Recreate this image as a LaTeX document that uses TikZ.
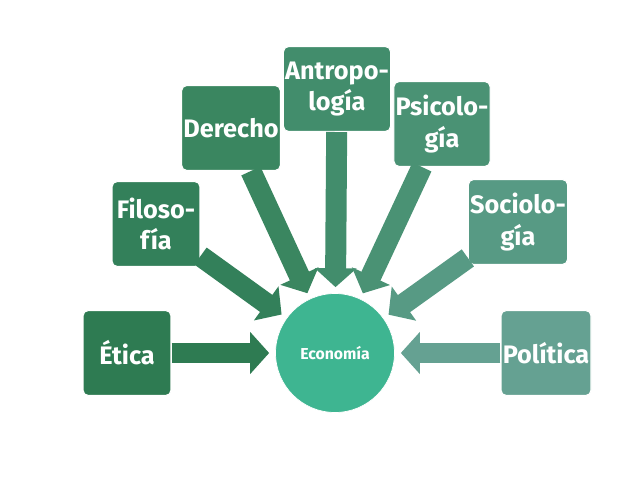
\documentclass[tikz,border=0pt]{standalone}
\usepackage{fontspec}
\setmainfont{Fira Sans}
\usetikzlibrary{arrows.meta}
\tikzset{
  topic/.style={draw=white, line width=0.6pt, rounded corners=3pt, text=white,
    font=\bfseries\Large, align=center, minimum width=1.76cm, minimum height=1.7cm, inner sep=1pt},
  feed/.style={line width=0.42cm, -{Triangle[width=0.82cm,length=0.38cm]}, shorten >=0.12cm}
}
\definecolor{cA}{HTML}{2E7B52}
\definecolor{cB}{HTML}{33805A}
\definecolor{cC}{HTML}{3A8660}
\definecolor{cD}{HTML}{428D6C}
\definecolor{cE}{HTML}{4A9274}
\definecolor{cF}{HTML}{579A84}
\definecolor{cG}{HTML}{65A192}
\definecolor{cEco}{HTML}{3EB591}
\begin{document}
\begin{tikzpicture}[x=0.02cm, y=-0.02cm]
  \useasboundingbox (0,0) rectangle (638,479);
  \node[circle, fill=cEco, draw=white, minimum size=2.38cm, text=white, font=\bfseries\small] (eco) at (335,353) {Economía};
  \node[topic, fill=cA] (eti) at (127,353) {Ética};
  \node[topic, fill=cB] (fil) at (156,224) {Filoso-\\fía};
  \node[topic, fill=cC, minimum width=1.96cm] (der) at (231,128) {Derecho};
  \node[topic, fill=cD] (ant) at (337,89) {Antropo-\\logía};
  \node[topic, fill=cE] (psi) at (442,124) {Psicolo-\\gía};
  \node[topic, fill=cF] (soc) at (518,222) {Sociolo-\\gía};
  \node[topic, fill=cG] (pol) at (546,353) {Política};
  % arrows into the circle
  \draw[feed, cA] (eti) -- (eco);
  \draw[feed, cB] (fil) -- (eco);
  \draw[feed, cC] (der) -- (eco);
  \draw[feed, cD] (ant) -- (eco);
  \draw[feed, cE] (psi) -- (eco);
  \draw[feed, cF] (soc) -- (eco);
  \draw[feed, cG] (pol) -- (eco);
\end{tikzpicture}
\end{document}
